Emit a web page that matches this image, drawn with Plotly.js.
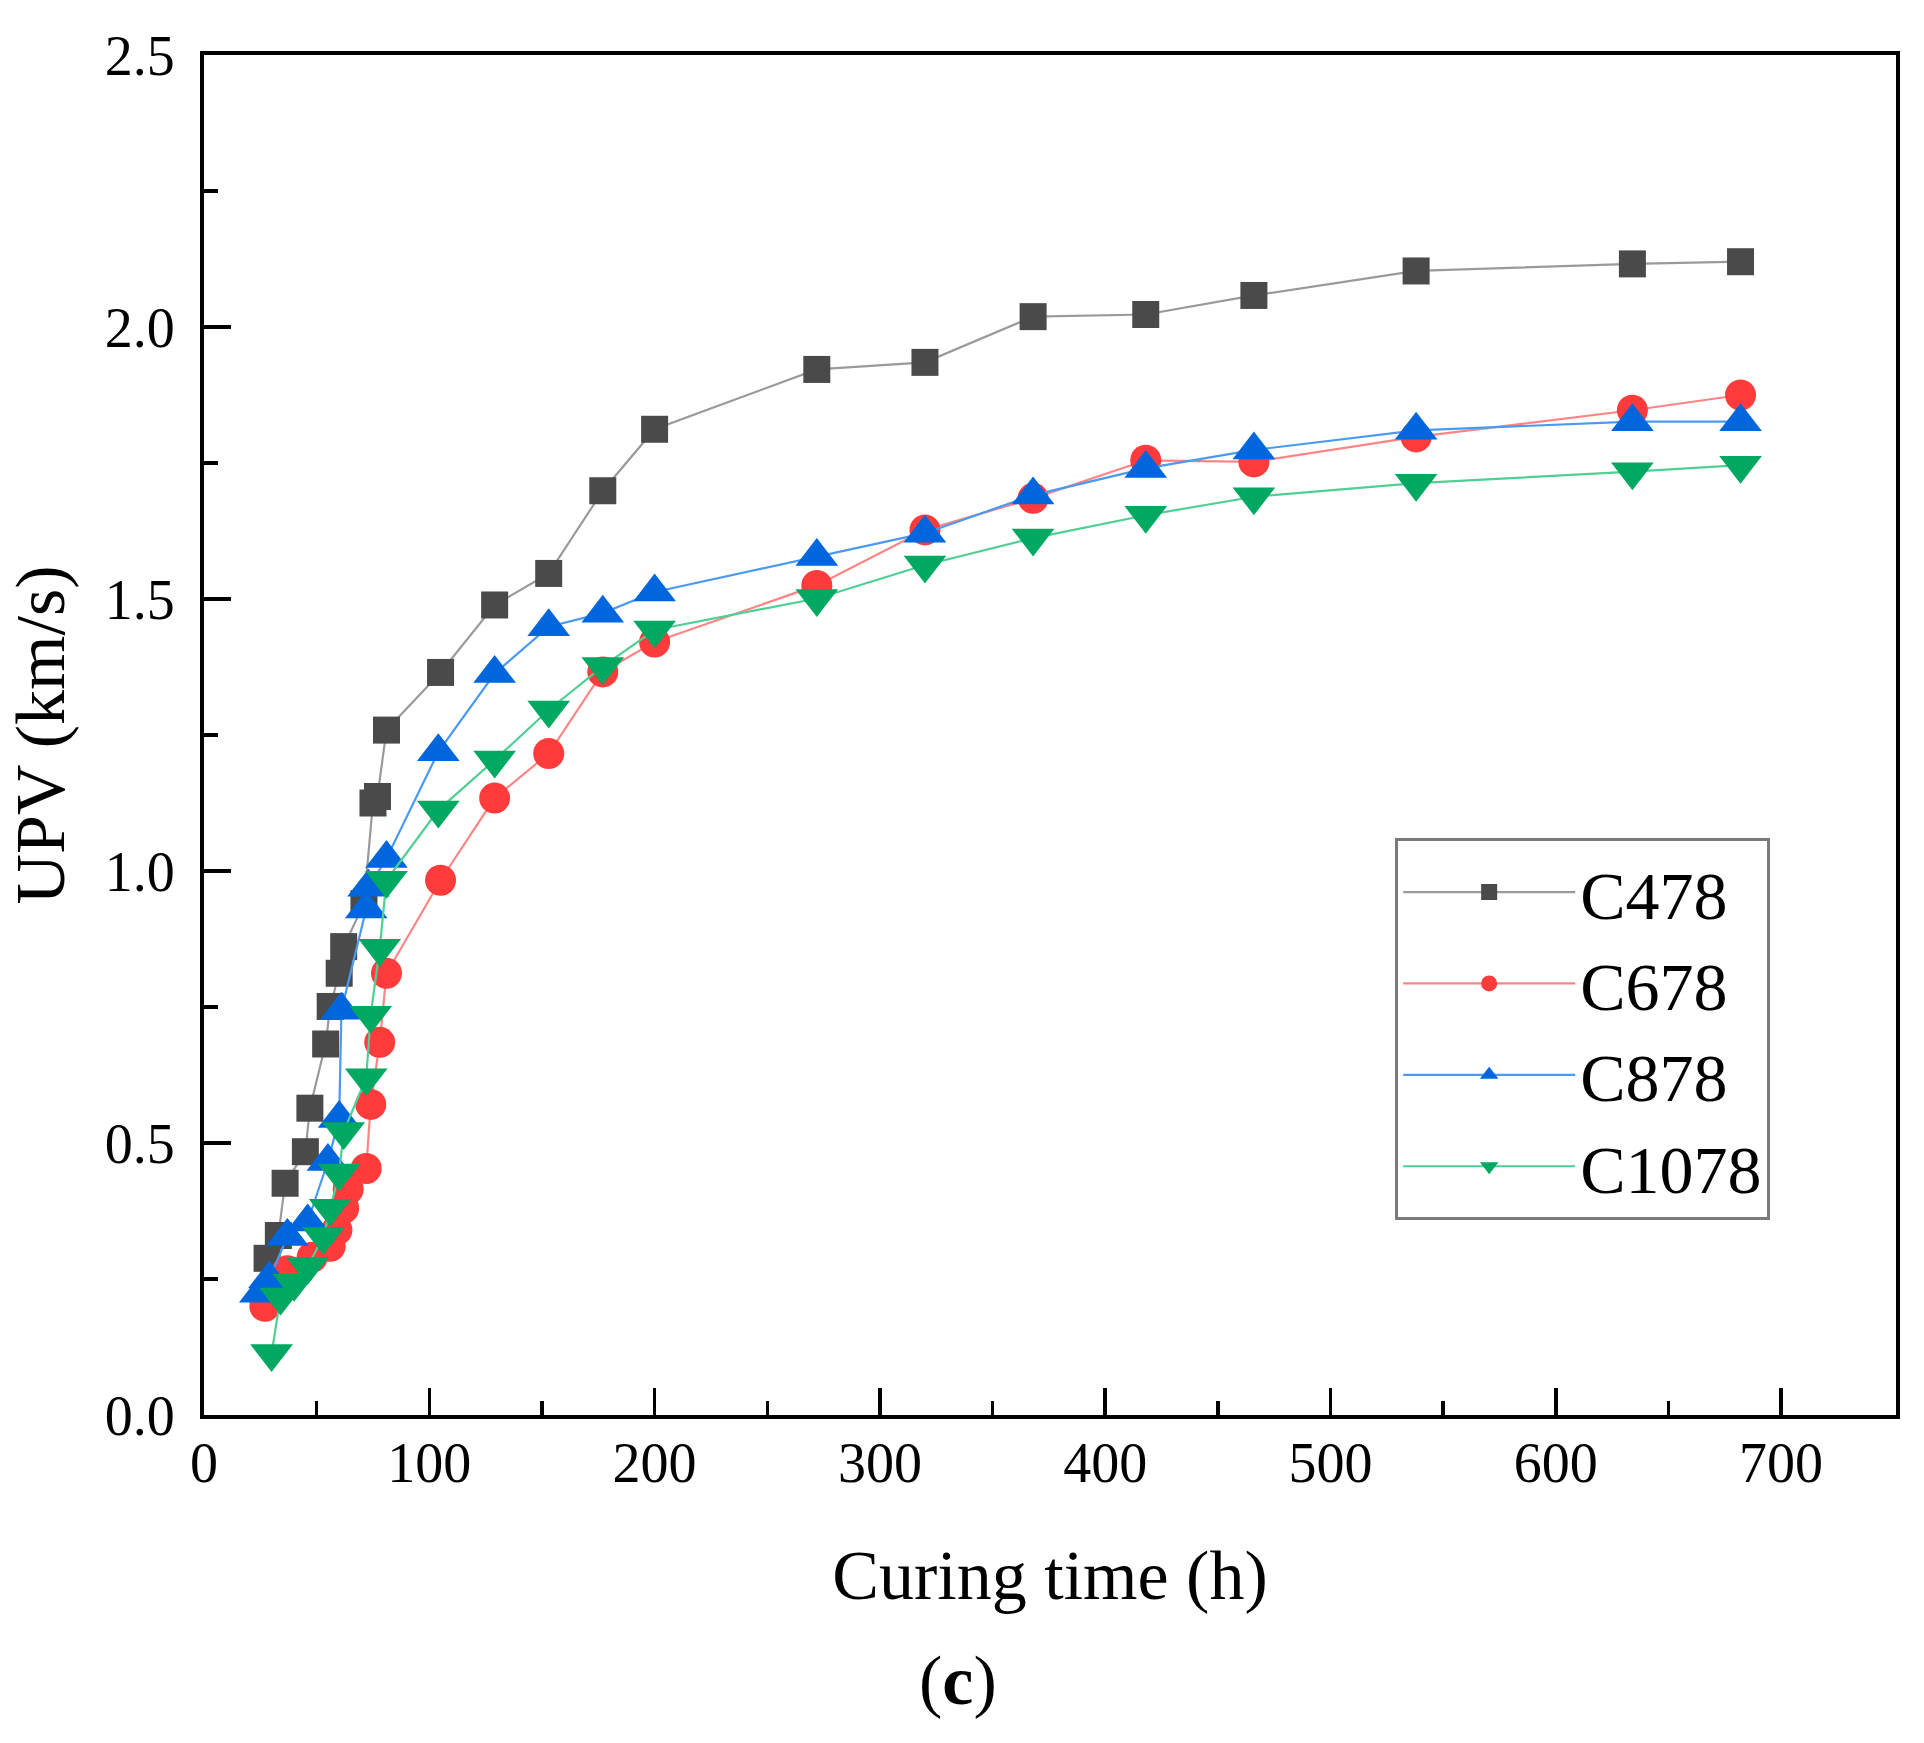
<!DOCTYPE html>
<html>
<head>
<meta charset="utf-8">
<script src="https://cdn.plot.ly/plotly-3.0.1.min.js"></script>
<style>
  html, body { margin: 0; padding: 0; background: #fff; }
  #chart { width: 1924px; height: 1743px; }
</style>
</head>
<body>
<div id="chart"></div>
<script>
// values (curing time in h, UPV in km/s)
const time478 = [28, 33, 36, 45, 47, 54, 56, 60, 62, 71, 75, 77, 81, 105, 129, 153, 177, 200, 272, 320, 368, 418, 466, 538, 634, 682];
const upv478 = [0.288, 0.33, 0.426, 0.484, 0.564, 0.682, 0.751, 0.812, 0.861, 0.94, 1.125, 1.137, 1.259, 1.365, 1.489, 1.547, 1.699, 1.812, 1.922, 1.935, 2.019, 2.023, 2.058, 2.103, 2.116, 2.12];

const time678 = [27, 37, 48, 56, 59, 62, 64, 72, 74, 78, 81, 105, 129, 153, 177, 200, 272, 320, 368, 418, 466, 538, 634, 682];
const upv678 = [0.2, 0.265, 0.29, 0.31, 0.34, 0.38, 0.415, 0.453, 0.571, 0.685, 0.812, 0.983, 1.134, 1.216, 1.366, 1.421, 1.525, 1.627, 1.685, 1.755, 1.752, 1.798, 1.847, 1.875];

const time878 = [25, 29, 37, 46, 55, 60, 61, 72, 73, 81, 104, 129, 153, 177, 200, 272, 320, 368, 418, 466, 538, 634, 682];
const upv878 = [0.224, 0.25, 0.328, 0.355, 0.466, 0.545, 0.744, 0.93, 0.97, 1.023, 1.219, 1.363, 1.449, 1.474, 1.513, 1.578, 1.621, 1.691, 1.74, 1.774, 1.81, 1.826, 1.826];

const time1078 = [30, 34, 40, 46, 53, 56, 60, 62, 72, 74, 78, 81, 104, 129, 153, 177, 200, 272, 320, 368, 418, 466, 538, 634, 682];
const upv1078 = [0.113, 0.217, 0.242, 0.273, 0.328, 0.38, 0.445, 0.521, 0.62, 0.735, 0.858, 0.983, 1.112, 1.204, 1.296, 1.376, 1.443, 1.501, 1.5625, 1.612, 1.654, 1.688, 1.713, 1.734, 1.746];

const seriesNames = ["C478", "C678", "C878", "C1078"];
const yTickVals = [0, 0.5, 1.0, 1.5, 2.0, 2.5];
const yTickText = ["0.0", "0.5", "1.0", "1.5", "2.0", "2.5"];
const yMinorVals = [0.25, 0.75, 1.25, 1.75, 2.25];
const xTickVals = [0, 100, 200, 300, 400, 500, 600, 700];
const xMinorVals = [50, 150, 250, 350, 450, 550, 650];

const FONT = "Liberation Serif, Times New Roman, serif";

function series(name, x, y, symbol, size, markerColor, lineColor) {
    return {
        name: name,
        x: x,
        y: y,
        type: "scatter",
        mode: "lines+markers",
        line: {color: lineColor, width: 2.2},
        marker: {symbol: symbol, size: size, color: markerColor, line: {width: 0}},
    };
}

let traces = [
    series(seriesNames[0], time478, upv478, "square", 27, "#4a4a4a", "#9a9a9a"),
    series(seriesNames[1], time678, upv678, "circle", 31, "#ff3b3b", "#ff8585"),
    series(seriesNames[2], time878, upv878, "triangle-up", 37, "#0066dd", "#4a9af2"),
    series(seriesNames[3], time1078, upv1078, "triangle-down", 37, "#00a862", "#4fcf94"),
];

let axisCommon = {
    showline: true,
    linecolor: "#000",
    linewidth: 4,
    mirror: true,
    showgrid: false,
    zeroline: false,
    ticks: "inside",
    ticklen: 27,
    tickwidth: 3.5,
    tickcolor: "#000",
    tickfont: {family: FONT, size: 56, color: "#000"},
};

let layout = {
    width: 1924,
    height: 1743,
    paper_bgcolor: "#fff",
    plot_bgcolor: "#fff",
    margin: {l: 204, r: 28, t: 55, b: 328},
    font: {family: FONT, color: "#000"},
    showlegend: true,
    xaxis: {
        ...axisCommon,
        range: [0, 751],
        tickvals: xTickVals,
        ticklabelstandoff: -4,
        minor: {tickvals: xMinorVals, ticks: "inside", ticklen: 14, tickwidth: 3.5, tickcolor: "#000"},
        title: {text: "Curing time (h)", font: {family: FONT, size: 70, color: "#000"}, standoff: 58},
    },
    yaxis: {
        ...axisCommon,
        range: [0, 2.5],
        tickvals: yTickVals,
        ticktext: yTickText,
        ticklabelstandoff: 14,
        minor: {tickvals: yMinorVals, ticks: "inside", ticklen: 14, tickwidth: 3.5, tickcolor: "#000"},
        title: {text: "UPV (km/s)", font: {family: FONT, size: 70, color: "#000"}, standoff: 18},
    },
    legend: {
        x: 0.704,
        y: 0.424,
        xanchor: "left",
        yanchor: "top",
        bgcolor: "#fff",
        bordercolor: "#7a7a7a",
        borderwidth: 3,
        itemwidth: 172,
        font: {family: FONT, size: 68, color: "#000"},
        tracegroupgap: 0,
    },
    annotations: [{
        text: "(<b>c</b>)",
        xref: "paper",
        yref: "paper",
        x: 0.4456,
        y: -0.195,
        xanchor: "center",
        yanchor: "middle",
        showarrow: false,
        font: {family: FONT, size: 70, color: "#000"},
    }],
};

Plotly.newPlot("chart", traces, layout, {staticPlot: true, displayModeBar: false});
</script>
</body>
</html>
